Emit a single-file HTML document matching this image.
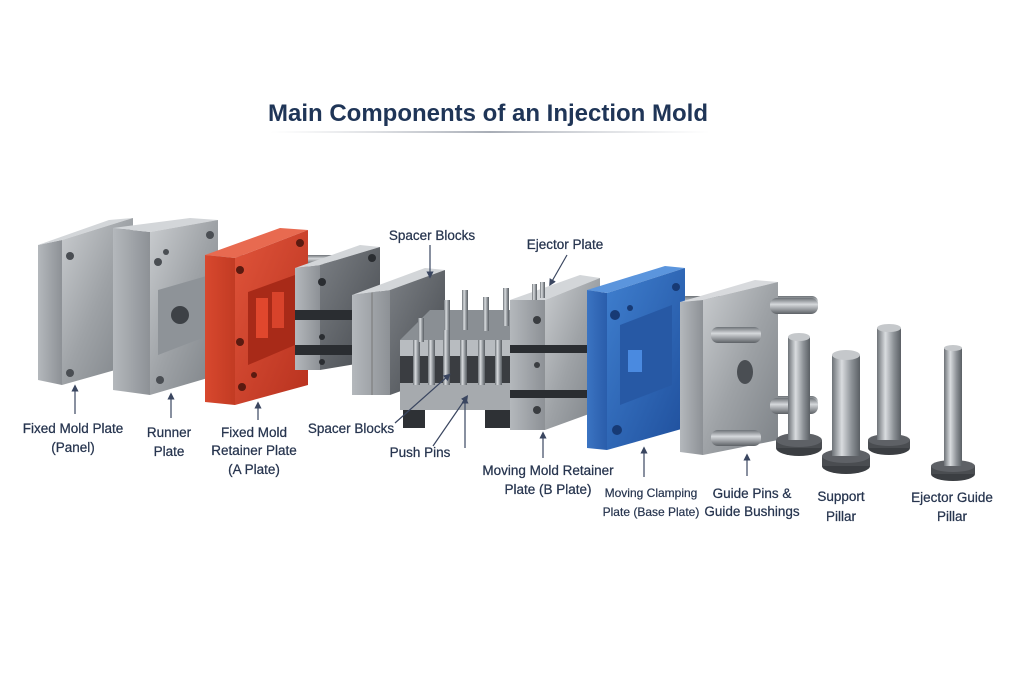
<!DOCTYPE html>
<html><head><meta charset="utf-8"><style>
html,body{margin:0;padding:0;background:#fff;}
svg{display:block}
text{font-family:"Liberation Sans",sans-serif;fill:#27354f;}
</style></head><body>
<svg width="1024" height="683" viewBox="0 0 1024 683" xmlns="http://www.w3.org/2000/svg">
<defs>
<linearGradient id="st" x1="0" y1="0" x2="1" y2="1"><stop offset="0" stop-color="#c9cccf"/><stop offset="0.5" stop-color="#9ea2a6"/><stop offset="1" stop-color="#7d8287"/></linearGradient>
<linearGradient id="sts" x1="0" y1="0" x2="1" y2="0"><stop offset="0" stop-color="#b4b8bc"/><stop offset="1" stop-color="#8d9196"/></linearGradient>
<linearGradient id="dk" x1="0" y1="0" x2="1" y2="1"><stop offset="0" stop-color="#7b7f84"/><stop offset="1" stop-color="#45494e"/></linearGradient>
<linearGradient id="red" x1="0" y1="0" x2="1" y2="1"><stop offset="0" stop-color="#e0543a"/><stop offset="1" stop-color="#b8321f"/></linearGradient>
<linearGradient id="reds" x1="0" y1="0" x2="1" y2="0"><stop offset="0" stop-color="#d8482e"/><stop offset="1" stop-color="#c23b23"/></linearGradient>
<linearGradient id="blu" x1="0" y1="0" x2="1" y2="1"><stop offset="0" stop-color="#3f7fcf"/><stop offset="1" stop-color="#1f4f9c"/></linearGradient>
<linearGradient id="blus" x1="0" y1="0" x2="1" y2="0"><stop offset="0" stop-color="#3b74c2"/><stop offset="1" stop-color="#2a5dab"/></linearGradient>
<linearGradient id="cyl" x1="0" y1="0" x2="1" y2="0"><stop offset="0" stop-color="#6d7277"/><stop offset="0.35" stop-color="#d9dcdf"/><stop offset="0.7" stop-color="#8c9196"/><stop offset="1" stop-color="#5a5f64"/></linearGradient>
<linearGradient id="rod" x1="0" y1="0" x2="0" y2="1"><stop offset="0" stop-color="#6d7277"/><stop offset="0.4" stop-color="#d6d9dc"/><stop offset="1" stop-color="#5d6166"/></linearGradient>
<linearGradient id="ul" x1="0" y1="0" x2="1" y2="0"><stop offset="0" stop-color="#c9ccd2" stop-opacity="0"/><stop offset="0.5" stop-color="#a8adb6"/><stop offset="1" stop-color="#c9ccd2" stop-opacity="0"/></linearGradient>
<marker id="ah" markerWidth="6" markerHeight="6" refX="3" refY="3" orient="auto"><path d="M0,0 L6,3 L0,6 z" fill="#3a4660"/></marker>
</defs>

<text x="488" y="121" font-size="24" font-weight="bold" text-anchor="middle" style="fill:#1f3557">Main Components of an Injection Mold</text>
<rect x="270" y="131" width="440" height="2" fill="url(#ul)"/>

<g fill="url(#rod)">
<rect x="95" y="255" width="240" height="9"/>
<rect x="95" y="300" width="200" height="10"/>
<rect x="95" y="345" width="200" height="10"/>
<rect x="280" y="268" width="80" height="8"/>
<rect x="280" y="345" width="80" height="8"/>
<rect x="560" y="300" width="170" height="12"/>
<rect x="560" y="400" width="170" height="12"/>
<rect x="680" y="296" width="138" height="15" rx="6"/>
<rect x="680" y="396" width="138" height="15" rx="6"/>
</g>

<polygon points="38,245 62,240 62,385 38,380" fill="url(#sts)"/>
<polygon points="38,245 109,220 133,218 62,240" fill="#d3d6d9"/>
<polygon points="62,240 133,218 133,365 62,385" fill="url(#st)"/>
<g fill="#4a4e53"><circle cx="70" cy="256" r="4"/><circle cx="126" cy="231" r="4"/><circle cx="70" cy="373" r="4"/><circle cx="126" cy="355" r="4"/></g>

<polygon points="113,228 150,232 150,395 113,390" fill="url(#sts)"/>
<polygon points="113,228 190,218 218,220 150,232" fill="#d3d6d9"/>
<polygon points="150,232 218,220 218,375 150,395" fill="url(#st)"/>
<polygon points="158,290 210,275 210,335 158,355" fill="#8e9398"/>
<circle cx="180" cy="315" r="9" fill="#3d4146"/>
<g fill="#4a4e53"><circle cx="158" cy="262" r="4"/><circle cx="210" cy="235" r="4"/><circle cx="160" cy="380" r="4"/><circle cx="208" cy="358" r="3"/><circle cx="166" cy="252" r="3"/></g>

<polygon points="205,255 235,258 235,405 205,402" fill="url(#reds)"/>
<polygon points="205,255 280,228 308,230 235,258" fill="#e86a50"/>
<polygon points="235,258 308,230 308,385 235,405" fill="url(#red)"/>
<polygon points="248,292 295,275 295,345 248,365" fill="#a82a18"/>
<rect x="256" y="298" width="12" height="40" fill="#e0472d"/><rect x="272" y="292" width="12" height="36" fill="#d8432b"/>
<g fill="#5a1a10"><circle cx="240" cy="270" r="4"/><circle cx="300" cy="243" r="4"/><circle cx="240" cy="342" r="4"/><circle cx="242" cy="387" r="4"/><circle cx="254" cy="375" r="3"/></g>

<polygon points="295,268 320,265 320,370 295,370" fill="url(#sts)"/>
<polygon points="295,268 360,245 380,247 320,265" fill="#d3d6d9"/>
<polygon points="320,265 380,247 380,360 320,370" fill="url(#dk)"/>
<rect x="295" y="310" width="85" height="10" fill="#2a2d31"/>
<rect x="295" y="345" width="85" height="10" fill="#2a2d31"/>
<g fill="#2a2d31"><circle cx="322" cy="282" r="4"/><circle cx="372" cy="258" r="4"/><circle cx="322" cy="337" r="3"/><circle cx="322" cy="362" r="3"/></g>

<polygon points="352,295 390,290 390,395 352,395" fill="url(#sts)"/>
<line x1="372" y1="292" x2="372" y2="395" stroke="#777" stroke-width="1"/>
<polygon points="352,295 425,268 445,270 390,290" fill="#d3d6d9"/>
<polygon points="390,290 445,270 445,375 390,395" fill="url(#dk)"/>

<!-- ejector pin plate -->
<rect x="403" y="400" width="22" height="28" fill="#2e3135"/>
<rect x="485" y="400" width="25" height="28" fill="#2e3135"/>
<rect x="425" y="395" width="60" height="10" fill="#3a3d41"/>
<polygon points="400,383 510,383 520,375 520,402 510,410 400,410" fill="#a6aaae"/>
<polygon points="400,340 510,340 540,310 430,310" fill="#8a8f94"/>
<polygon points="400,340 510,340 510,356 400,356" fill="#b8bcc0"/>
<rect x="400" y="356" width="110" height="27" fill="#3a3d41"/>
<g fill="url(#cyl)">
<rect x="413" y="340" width="7" height="45"/><rect x="428" y="340" width="7" height="45"/><rect x="443" y="330" width="7" height="55"/><rect x="460" y="340" width="7" height="45"/><rect x="478" y="340" width="7" height="45"/><rect x="495" y="340" width="7" height="45"/>
<rect x="462" y="290" width="6" height="40"/><rect x="483" y="297" width="6" height="34"/><rect x="503" y="288" width="6" height="38"/><rect x="444" y="300" width="6" height="30"/><rect x="418" y="318" width="6" height="24"/>
</g>

<polygon points="510,300 545,300 545,430 510,430" fill="url(#sts)"/>
<polygon points="510,300 580,275 600,278 545,300" fill="#d3d6d9"/>
<polygon points="545,300 600,278 600,410 545,430" fill="url(#st)"/>
<rect x="510" y="345" width="90" height="8" fill="#2a2d31"/>
<rect x="510" y="390" width="90" height="8" fill="#2a2d31"/>
<g fill="url(#cyl)"><rect x="532" y="284" width="5" height="16"/><rect x="540" y="282" width="5" height="16"/></g>
<g fill="#3a3d41"><circle cx="537" cy="320" r="4"/><circle cx="537" cy="365" r="3"/><circle cx="537" cy="410" r="4"/></g>

<polygon points="587,290 607,293 607,450 587,448" fill="url(#blus)"/>
<polygon points="587,290 665,266 685,268 607,293" fill="#5b95dd"/>
<polygon points="607,293 685,268 685,428 607,450" fill="url(#blu)"/>
<polygon points="620,325 672,305 672,385 620,405" fill="#2759a5"/>
<rect x="628" y="350" width="14" height="22" fill="#4a8ae0"/>
<g fill="#173a75"><circle cx="615" cy="315" r="5"/><circle cx="676" cy="287" r="4"/><circle cx="617" cy="430" r="5"/><circle cx="630" cy="308" r="3"/></g>

<polygon points="680,302 703,300 703,455 680,452" fill="url(#sts)"/>
<polygon points="680,302 755,280 778,282 703,300" fill="#d8dadd"/>
<polygon points="703,300 778,282 778,440 703,455" fill="url(#st)"/>
<ellipse cx="745" cy="372" rx="8" ry="12" fill="#4a4e53"/>
<g fill="url(#rod)">
<rect x="770" y="298" width="48" height="16" rx="7"/>
<rect x="711" y="327" width="50" height="16" rx="7"/>
<rect x="770" y="398" width="48" height="16" rx="7"/>
<rect x="711" y="430" width="50" height="16" rx="7"/>
</g>

<g>
<ellipse cx="799" cy="448" rx="23" ry="8" fill="#3b3e42"/><rect x="776" y="440" width="46" height="8" fill="#4a4d51"/><ellipse cx="799" cy="440" rx="23" ry="7" fill="#5e6166"/>
<rect x="788" y="337" width="22" height="103" fill="url(#cyl)"/><ellipse cx="799" cy="337" rx="11" ry="4" fill="#c5c8cb"/>
<ellipse cx="846" cy="466" rx="24" ry="8" fill="#3b3e42"/><rect x="822" y="456" width="48" height="10" fill="#4a4d51"/><ellipse cx="846" cy="456" rx="24" ry="7" fill="#5e6166"/>
<rect x="832" y="355" width="28" height="101" fill="url(#cyl)"/><ellipse cx="846" cy="355" rx="14" ry="5" fill="#c5c8cb"/>
<ellipse cx="889" cy="448" rx="21" ry="7" fill="#3b3e42"/><rect x="868" y="440" width="42" height="8" fill="#4a4d51"/><ellipse cx="889" cy="440" rx="21" ry="6" fill="#5e6166"/>
<rect x="877" y="328" width="24" height="112" fill="url(#cyl)"/><ellipse cx="889" cy="328" rx="12" ry="4" fill="#c5c8cb"/>
<ellipse cx="953" cy="474" rx="22" ry="7" fill="#3b3e42"/><rect x="931" y="466" width="44" height="8" fill="#4a4d51"/><ellipse cx="953" cy="466" rx="22" ry="6" fill="#5e6166"/>
<rect x="944" y="348" width="18" height="118" fill="url(#cyl)"/><ellipse cx="953" cy="348" rx="9" ry="3" fill="#c5c8cb"/>
</g>

<g stroke="#3a4660" stroke-width="1.2" fill="none" marker-end="url(#ah)">
<line x1="75" y1="414" x2="75" y2="388"/>
<line x1="171" y1="418" x2="171" y2="396"/>
<line x1="258" y1="420" x2="258" y2="405"/>
<line x1="430" y1="245" x2="430" y2="275"/>
<line x1="567" y1="255" x2="551" y2="283"/>
<line x1="395" y1="423" x2="448" y2="376"/>
<line x1="433" y1="446" x2="466" y2="398"/>
<line x1="465" y1="448" x2="465" y2="400"/>
<line x1="543" y1="458" x2="543" y2="435"/>
<line x1="644" y1="477" x2="644" y2="450"/>
<line x1="747" y1="476" x2="747" y2="457"/>
</g>

<g font-size="13.5" text-anchor="middle" stroke="#27354f" stroke-width="0.25">
<text x="73" y="433">Fixed Mold Plate</text><text x="73" y="452">(Panel)</text>
<text x="169" y="437">Runner</text><text x="169" y="456">Plate</text>
<text x="254" y="437">Fixed Mold</text><text x="254" y="455">Retainer Plate</text><text x="254" y="474">(A Plate)</text>
<text x="351" y="433">Spacer Blocks</text>
<text x="432" y="240">Spacer Blocks</text>
<text x="565" y="249">Ejector Plate</text>
<text x="420" y="457">Push Pins</text>
<text x="548" y="475">Moving Mold Retainer</text><text x="548" y="494">Plate (B Plate)</text>
<text x="752" y="498">Guide Pins &amp;</text><text x="752" y="516">Guide Bushings</text>
<text x="841" y="501">Support</text><text x="841" y="521">Pillar</text>
<text x="952" y="502">Ejector Guide</text><text x="952" y="521">Pillar</text>
</g>
<g font-size="12" text-anchor="middle" stroke="#27354f" stroke-width="0.2">
<text x="651" y="497">Moving Clamping</text><text x="651" y="516">Plate (Base Plate)</text>
</g>
</svg>
</body></html>
